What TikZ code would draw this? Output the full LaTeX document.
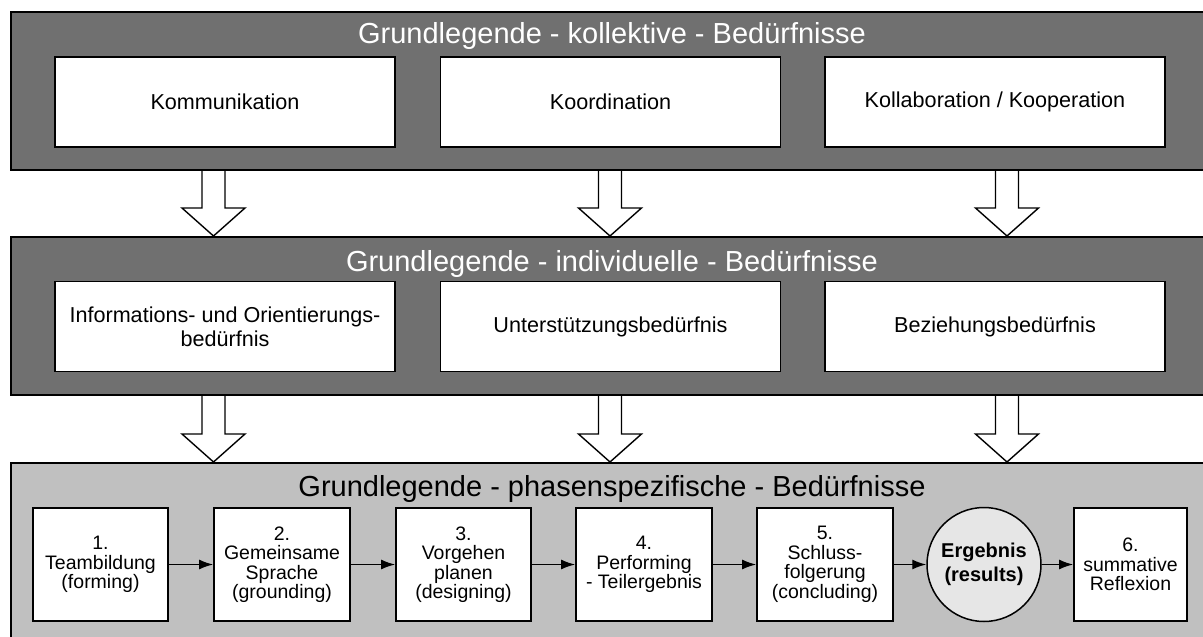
\documentclass[tikz,border=0pt]{standalone}
\usepackage{fontspec}
\setmainfont{Liberation Sans}
\usetikzlibrary{arrows.meta,calc}
\definecolor{paneldark}{HTML}{707070}
\definecolor{panellight}{HTML}{C0C0C0}
\definecolor{resultfill}{HTML}{E6E6E6}

% hollow block arrow from a point on one panel's lower edge to the next panel's upper edge
\newcommand\blockarrow[2]{%
  \draw[blockarr] let \p1=(#1), \p2=(#2) in
    (\x1-11.5pt,\y1) -- (\x1-11.5pt,\y2+28pt) -- (\x1-31.5pt,\y2+28pt)
    -- (\x2,\y2) -- (\x1+31.5pt,\y2+28pt) -- (\x1+11.5pt,\y2+28pt)
    -- (\x1+11.5pt,\y1);}

\begin{document}
\begin{tikzpicture}[x=1pt,y=-1pt,
  panel/.style={draw=black, line width=2pt, anchor=north west,
    minimum width=1200pt, minimum height=158pt, inner sep=0pt},
  paneltitle/.style={font=\fontsize{29}{33}\selectfont, anchor=base},
  needbox/.style={draw=black, fill=white, line width=1.8pt, inner sep=0pt,
    minimum width=340pt, minimum height=90pt, align=center,
    font=\fontsize{21.6}{24}\selectfont},
  phasebox/.style={draw=black, fill=white, line width=1.8pt, inner sep=0pt,
    minimum width=136pt, minimum height=113pt, align=center,
    font=\fontsize{19.5}{19.5}\selectfont},
  resultnode/.style={circle, draw=black, fill=resultfill, line width=1.5pt,
    inner sep=0pt, minimum size=114pt, align=center,
    font=\fontsize{20}{24}\selectfont\bfseries},
  flow/.style={-{Latex[length=14pt,width=10pt]}, line width=1.4pt},
  blockarr/.style={draw=black, fill=white, line width=1.4pt}
]
\useasboundingbox (0,0) rectangle (1203,637);
\clip (0,0) rectangle (1203,637);

% columns of the block arrows
\coordinate (c1) at (213.5,0);
\coordinate (c2) at (610,0);
\coordinate (c3) at (1007,0);

% ---------- collective needs ----------
\node[panel, fill=paneldark] (p1) at (10,11) {};
\node[paneltitle, text=white] (t1) at (612,43) {Grundlegende - kollektive - Bedürfnisse};
\node[needbox] (k1) at (225,102) {Kommunikation};
\node[needbox] (k2) at (610.5,102) {Koordination};
\node[needbox] (k3) at (995,102) {Kollaboration / Kooperation};

% ---------- individual needs ----------
\node[panel, fill=paneldark] (p2) at (10,236) {};
\node[paneltitle, text=white] (t2) at (612,271) {Grundlegende - individuelle - Bedürfnisse};
\node[needbox] (i1) at (225,326.5) {Informations- und Orientierungs-\\bedürfnis};
\node[needbox] (i2) at (610.5,326.5) {Unterstützungsbedürfnis};
\node[needbox] (i3) at (995,326.5) {Beziehungsbedürfnis};

% ---------- phase-specific needs ----------
\node[panel, fill=panellight, minimum height=200pt] (p3) at (10,462) {};
\node[paneltitle] (t3) at (612,496) {Grundlegende - phasenspezifische - Bedürfnisse};
\node[phasebox, minimum width=135pt] (f1) at (100.5,564.5) {1.\\Teambildung\\(forming)};
\node[phasebox] (f2) at (282,564.5) {2.\\Gemeinsame\\Sprache\\(grounding)};
\node[phasebox, minimum width=135pt] (f3) at (463.5,564.5) {3.\\Vorgehen\\planen\\(designing)};
\node[phasebox] (f4) at (644,564.5) {4.\\Performing\\- Teilergebnis};
\node[phasebox] (f5) at (825,564.5) {5.\\Schluss-\\folgerung\\(concluding)};
\node[resultnode] (res) at (984,564.5) {Ergebnis\\(results)};
\node[phasebox, minimum width=113pt] (f6) at (1130.5,564.5) {6.\\summative\\Reflexion};

% sequence of phases
\draw[flow] (f1) -- (f2);
\draw[flow] (f2) -- (f3);
\draw[flow] (f3) -- (f4);
\draw[flow] (f4) -- (f5);
\draw[flow] (f5) -- (res);
\draw[flow] (res) -- (f6);

% transfer between the levels
\blockarrow{p1.south -| c1}{p2.north -| c1}
\blockarrow{p1.south -| c2}{p2.north -| c2}
\blockarrow{p1.south -| c3}{p2.north -| c3}
\blockarrow{p2.south -| c1}{p3.north -| c1}
\blockarrow{p2.south -| c2}{p3.north -| c2}
\blockarrow{p2.south -| c3}{p3.north -| c3}
\end{tikzpicture}
\end{document}
